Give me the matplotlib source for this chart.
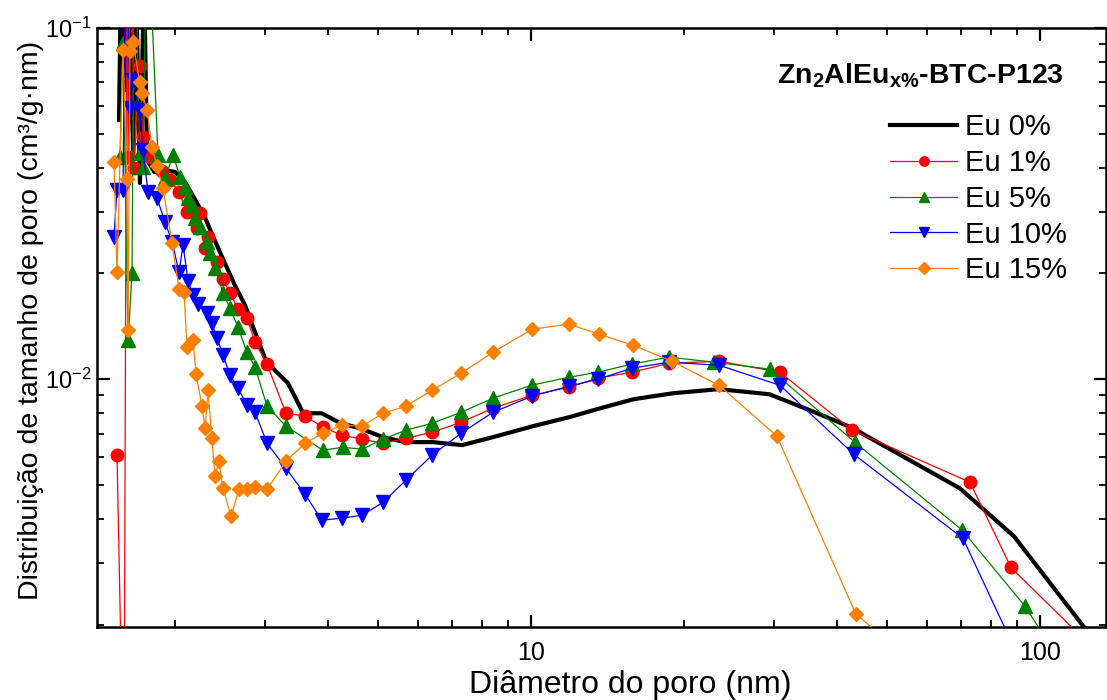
import matplotlib
matplotlib.use("Agg")
import matplotlib.pyplot as plt
from matplotlib.ticker import LogLocator, NullFormatter, FuncFormatter

plt.rcParams['font.family'] = ['Liberation Sans', 'DejaVu Sans']
plt.rcParams['mathtext.fontset'] = 'custom'
plt.rcParams['mathtext.rm'] = 'Liberation Sans'
plt.rcParams['mathtext.bf'] = 'Liberation Sans:bold'
plt.rcParams['mathtext.it'] = 'Liberation Sans:italic'
plt.rcParams['axes.unicode_minus'] = False

# Pore diameter (nm) and pore size distribution (cm3/g.nm) for each Eu loading
d_eu0 = [1.551, 1.565, 1.594, 1.616, 1.653, 1.675, 1.705, 1.737, 1.761, 1.82, 1.91, 2.00,
         2.09, 2.19, 2.29, 2.39, 2.50, 2.62, 2.74, 2.87, 3.00, 3.14, 3.33, 3.57, 3.88,
         4.22, 4.61, 5.12, 5.66, 6.42, 7.32, 8.42, 10.09, 11.9, 13.7, 15.9, 19.0, 23.4,
         29.4, 35.3, 42.5, 69.6, 88.9, 128.0]
v_eu0 = [0.0547, 0.14, 0.0665, 0.14, 0.0449, 0.14, 0.0362, 0.14, 0.0421, 0.0389, 0.0394,
         0.0389, 0.0364, 0.0324, 0.0288, 0.0249, 0.0215, 0.0185, 0.0163, 0.0136, 0.0115,
         0.0106, 0.00975, 0.0080, 0.0080, 0.0075, 0.00725, 0.00684, 0.00662, 0.00662,
         0.00649, 0.00684, 0.00735, 0.0078, 0.00827, 0.00877, 0.00912, 0.00937, 0.00906,
         0.00816, 0.00730, 0.00489, 0.00357, 0.0018]

d_eu1 = [1.537, 1.586, 1.608, 1.616, 1.638, 1.660, 1.703, 1.728, 1.784, 1.884, 1.954,
         2.035, 2.110, 2.208, 2.238, 2.289, 2.320, 2.416, 2.483, 2.563, 2.657, 2.767,
         2.870, 3.03, 3.30, 3.60, 3.90, 4.25, 4.66, 5.12, 5.68, 6.39, 7.29, 8.42, 10.05,
         11.88, 13.54, 15.79, 18.67, 23.41, 30.84, 42.72, 72.86, 87.7, 131.2]
v_eu1 = [0.00607, 0.00063, 0.23, 0.0429, 0.23, 0.0399, 0.0779, 0.0489, 0.0429, 0.0392,
         0.0369, 0.0341, 0.0299, 0.0269, 0.0297, 0.0236, 0.0254, 0.0215, 0.0193, 0.0176,
         0.0158, 0.0149, 0.01274, 0.01104, 0.0080, 0.00785, 0.0073, 0.00693, 0.00675,
         0.00657, 0.00679, 0.00706, 0.00754, 0.00827, 0.0090, 0.00949, 0.01007, 0.01047,
         0.0111, 0.01125, 0.01047, 0.00716, 0.00509, 0.00291, 0.00164]

d_eu5 = [1.558, 1.579, 1.616, 1.645, 1.663, 1.703, 1.728, 1.761, 1.850, 1.910, 1.981,
         2.044, 2.090, 2.119, 2.158, 2.188, 2.238, 2.309, 2.341, 2.394, 2.483, 2.563,
         2.657, 2.767, 2.870, 3.03, 3.30, 3.90, 4.27, 4.66, 5.12, 5.68, 6.39, 7.29, 8.42,
         10.05, 11.88, 13.54, 15.79, 18.67, 22.89, 29.48, 43.3, 70.3, 93.4, 109.5]
v_eu5 = [0.0429, 0.0906, 0.0129, 0.02004, 0.23, 0.0440, 0.0402, 0.23, 0.0435, 0.0374,
         0.0435, 0.0376, 0.0352, 0.0328, 0.0313, 0.0287, 0.0271, 0.0246, 0.0229, 0.0208,
         0.0176, 0.0159, 0.01406, 0.01194, 0.01082, 0.00838, 0.00735, 0.00628, 0.0064,
         0.00632, 0.00675, 0.00716, 0.00749, 0.00805, 0.00883, 0.00962, 0.01013, 0.01047,
         0.01104, 0.01156, 0.01118, 0.01068, 0.00661, 0.00372, 0.00226, 0.00158]

d_eu10 = [1.516, 1.537, 1.579, 1.601, 1.630, 1.653, 1.703, 1.728, 1.769, 1.842, 1.910,
          1.972, 2.035, 2.072, 2.119, 2.168, 2.218, 2.309, 2.361, 2.416, 2.483, 2.563,
          2.657, 2.767, 2.870, 3.03, 3.30, 3.60, 3.88, 4.25, 4.66, 5.12, 5.68, 6.39, 7.29,
          8.42, 10.05, 11.88, 13.54, 15.79, 18.67, 23.41, 30.84, 43.1, 70.6, 91.4]
v_eu10 = [0.0254, 0.0346, 0.0346, 0.23, 0.0592, 0.0711, 0.0584, 0.0449, 0.0341, 0.0328,
          0.0280, 0.0246, 0.0202, 0.0241, 0.0191, 0.01735, 0.01636, 0.01542, 0.01443,
          0.01309, 0.0117, 0.01027, 0.00943, 0.00843, 0.00805, 0.00657, 0.00558, 0.0047,
          0.00397, 0.00402, 0.0041, 0.00446, 0.00516, 0.00607, 0.00702, 0.00805, 0.00895,
          0.00955, 0.0100, 0.01075, 0.01118, 0.01096, 0.00961, 0.00611, 0.00352, 0.00158]

d_eu15 = [1.516, 1.537, 1.579, 1.608, 1.616, 1.630, 1.653, 1.703, 1.720, 1.761, 1.800,
          1.842, 1.892, 1.972, 2.035, 2.081, 2.110, 2.168, 2.198, 2.258, 2.289, 2.320,
          2.361, 2.394, 2.438, 2.483, 2.575, 2.669, 2.767, 2.870, 3.03, 3.30, 3.60, 3.90,
          4.25, 4.66, 5.12, 5.68, 6.39, 7.29, 8.42, 10.05, 11.88, 13.6, 15.87, 18.92,
          23.41, 30.43, 43.5, 55.5]
v_eu15 = [0.0415, 0.0202, 0.0866, 0.0371, 0.0138, 0.0860, 0.0912, 0.0702, 0.0653, 0.0584,
          0.0458, 0.0404, 0.0350, 0.0244, 0.01805, 0.0177, 0.01234, 0.0129, 0.01033,
          0.00838, 0.00725, 0.00930, 0.00679, 0.00529, 0.00584, 0.00489, 0.00407, 0.00486,
          0.00486, 0.00492, 0.00486, 0.00584, 0.00657, 0.00702, 0.0074, 0.00735, 0.0080,
          0.00838, 0.0093, 0.0104, 0.01194, 0.01388, 0.01435, 0.01343, 0.0125, 0.01125,
          0.00961, 0.00688, 0.00214, 0.0016]

labels = ['Eu 0%', 'Eu 1%', 'Eu 5%', 'Eu 10%', 'Eu 15%']

fig = plt.figure(figsize=(11.07, 7.0), dpi=100)
ax = fig.add_axes([97 / 1107, 1 - 627 / 700, (1106 - 97) / 1107, (627 - 28) / 700])

ax.plot(d_eu0, v_eu0, color='black', lw=3.0, label=labels[0], zorder=2)
ax.plot(d_eu1, v_eu1, color='#FF0000', lw=0.9, marker='o', ms=9, mec='#FF0000',
        label=labels[1], zorder=3)
ax.plot(d_eu5, v_eu5, color='#008000', lw=0.9, marker='^', ms=10, mec='#008000',
        label=labels[2], zorder=4)
ax.plot(d_eu10, v_eu10, color='#0000FF', lw=0.9, marker='v', ms=10, mec='#0000FF',
        label=labels[3], zorder=5)
ax.plot(d_eu15, v_eu15, color='#FF8000', lw=0.9, marker='D', ms=7.5, mec='#FF8000',
        label=labels[4], zorder=6)

ax.set_xscale('log')
ax.set_yscale('log')
ax.set_xlim(1.404, 134.8)
ax.set_ylim(0.00197, 0.1)

ax.xaxis.set_major_locator(LogLocator(base=10, subs=(1.0,)))
ax.xaxis.set_minor_locator(LogLocator(base=10, subs=range(2, 10)))
ax.xaxis.set_major_formatter(FuncFormatter(lambda v, p: '%d' % round(v)))
ax.xaxis.set_minor_formatter(NullFormatter())
ax.yaxis.set_minor_locator(LogLocator(base=10, subs=range(2, 10)))
ax.yaxis.set_minor_formatter(NullFormatter())

ax.tick_params(which='both', direction='in', top=True, right=True)
ax.tick_params(which='major', length=9, width=1.6)
ax.tick_params(which='minor', length=5, width=1.3)
ax.tick_params(axis='x', which='major', labelsize=18, pad=10)
ax.tick_params(axis='y', which='major', labelsize=17, pad=4)
for s in ax.spines.values():
    s.set_linewidth(1.8)

ax.set_xlabel('Diâmetro do poro (nm)', fontsize=23)
ax.xaxis.set_label_coords(0.528, -0.071)
ax.set_ylabel('Distribuição de tamanho de poro (cm³/g·nm)', fontsize=20.5)
ax.yaxis.set_label_coords(-0.053, 0.511)

fig.text(777 / 1107, 1 - 83 / 700, r'Zn$_\mathbf{2}$AlEu$_\mathbf{x\%}$-BTC-P123',
         fontsize=20.5, fontweight='bold', ha='left', va='baseline')

ax.legend(loc='upper left', bbox_to_anchor=(890 / 1107, 1 - 113 / 700),
          bbox_transform=fig.transFigure, frameon=False, fontsize=21,
          borderpad=0, borderaxespad=0, handlelength=2.3, handletextpad=0.28,
          labelspacing=0.27, markerscale=0.75)

fig.savefig('out.png', dpi=100)
